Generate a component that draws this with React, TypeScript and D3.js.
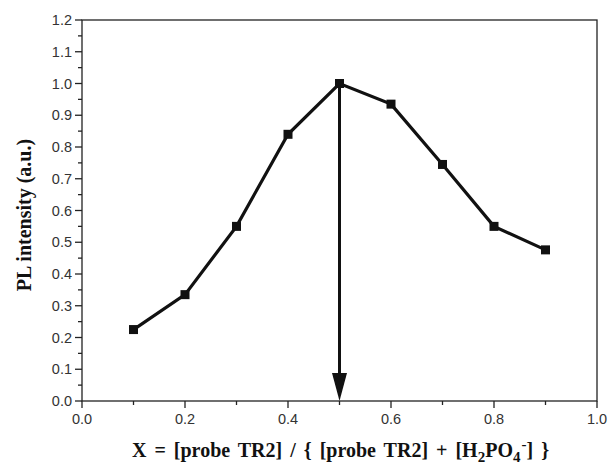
import React from "react";
import * as d3 from "d3";

const xValues = [0.1, 0.2, 0.3, 0.4, 0.5, 0.6, 0.7, 0.8, 0.9];
const yValues = [0.225, 0.335, 0.55, 0.84, 1.0, 0.935, 0.745, 0.55, 0.476];
const xTicks = [0, 0.2, 0.4, 0.6, 0.8, 1.0];
const yTicks = [0, 0.1, 0.2, 0.3, 0.4, 0.5, 0.6, 0.7, 0.8, 0.9, 1.0, 1.1, 1.2];
const arrowX = 0.5;

export default function App() {
  const W = 611, H = 467;
  const L = 82, R = 597, T = 20, B = 401;
  const x = d3.scaleLinear().domain([0, 1]).range([L, R]);
  const y = d3.scaleLinear().domain([0, 1.2]).range([B, T]);
  const line = d3.line<number>().x((_, i) => x(xValues[i])).y((d) => y(d));
  const xMinor = d3.range(0.1, 1.0, 0.2);
  const yMinor = d3.range(0.05, 1.2, 0.1);
  const tickColor = "#333";
  const ax = x(arrowX);
  const headH = 28, headW = 7.5;
  return (
    <svg width={W} height={H} style={{ position: "absolute", left: 0, top: 0 }}>
      <rect x={0} y={0} width={W} height={H} fill="#fff" />
      <rect x={L} y={T} width={R - L} height={B - T} fill="none" stroke="#222" strokeWidth={1.3} />
      {xTicks.map((t) => (
        <g key={"xt" + t}>
          <line x1={x(t)} x2={x(t)} y1={B} y2={B + 7} stroke="#222" strokeWidth={1.3} />
          <text x={x(t)} y={B + 23} textAnchor="middle" fontFamily="Liberation Sans, Arial, sans-serif" fontSize={14.5} fill={tickColor}>
            {t.toFixed(1)}
          </text>
        </g>
      ))}
      {xMinor.map((t) => (
        <line key={"xm" + t} x1={x(t)} x2={x(t)} y1={B} y2={B + 4} stroke="#222" strokeWidth={1.3} />
      ))}
      {yTicks.map((t) => (
        <g key={"yt" + t}>
          <line x1={L - 7} x2={L} y1={y(t)} y2={y(t)} stroke="#222" strokeWidth={1.3} />
          <text x={L - 10} y={y(t) + 5} textAnchor="end" fontFamily="Liberation Sans, Arial, sans-serif" fontSize={14.5} fill={tickColor}>
            {t.toFixed(1)}
          </text>
        </g>
      ))}
      {yMinor.map((t) => (
        <line key={"ym" + t} x1={L - 4} x2={L} y1={y(t)} y2={y(t)} stroke="#222" strokeWidth={1.3} />
      ))}
      <line x1={ax} x2={ax} y1={y(yValues[4])} y2={B - headH + 2} stroke="#111" strokeWidth={3} />
      <path d={`M${ax - headW},${B - headH} L${ax + headW},${B - headH} L${ax},${B} Z`} fill="#111" />
      <path d={line(yValues) || ""} fill="none" stroke="#111" strokeWidth={3.2} strokeLinejoin="miter" />
      {yValues.map((v, i) => (
        <rect key={"m" + i} x={x(xValues[i]) - 4.5} y={y(v) - 4.5} width={9} height={9} fill="#111" />
      ))}
      <text
        transform={`translate(31, 215) rotate(-90)`}
        textAnchor="middle"
        fontFamily="Liberation Serif, Times New Roman, serif"
        fontWeight="bold"
        fontSize={20}
        fill="#111"
      >
        PL intensity (a.u.)
      </text>
      <text x={132} y={457} textAnchor="start" fontFamily="Liberation Serif, Times New Roman, serif" fontWeight="bold" fontSize={20} wordSpacing={3} fill="#111">
        X = [probe TR2] / {"{"} [probe TR2] + [H
        <tspan fontSize={15} dy={5}>2</tspan>
        <tspan dy={-5}>PO</tspan>
        <tspan fontSize={15} dy={5}>4</tspan>
        <tspan fontSize={15} dx={1} dy={-13}>-</tspan>
        <tspan dy={8}>] {"}"}</tspan>
      </text>
    </svg>
  );
}
